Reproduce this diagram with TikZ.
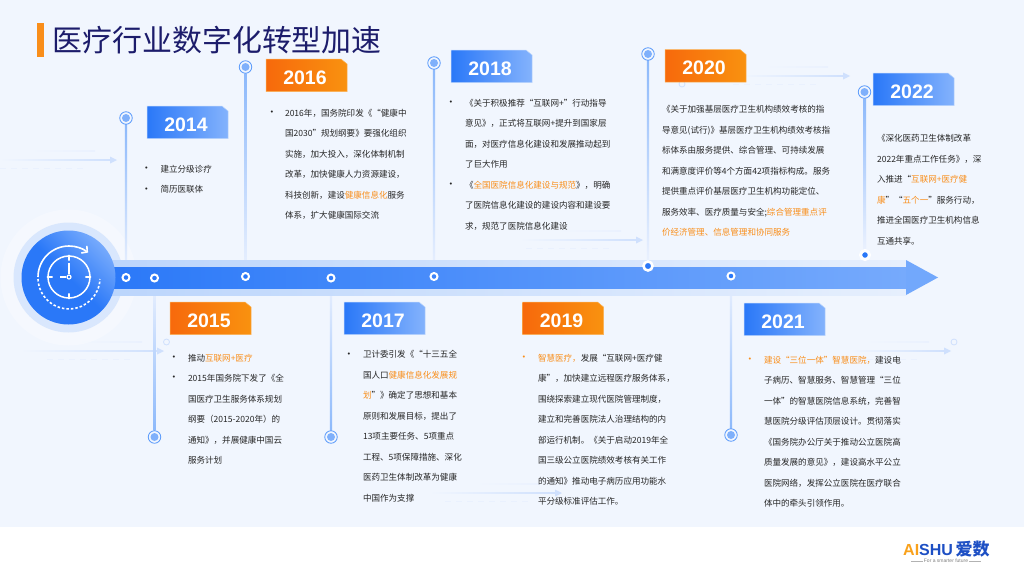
\documentclass[tikz,border=0pt]{standalone}
\usepackage{fontspec}
\setmainfont{Noto Sans CJK SC}
\newfontfamily\latinbold{Liberation Sans}[BoldFont={Liberation Sans Bold}]
\usetikzlibrary{calc,arrows.meta}
\pgfdeclarelayer{pagelayer}
\pgfdeclarelayer{stemlayer}
\pgfsetlayers{pagelayer,stemlayer,main}
\definecolor{pagebg}{HTML}{F1F6FE}
\definecolor{navy}{HTML}{1C1C6B}
\definecolor{hl}{HTML}{F98E1A}
\definecolor{ink}{HTML}{262626}
\definecolor{barl}{HTML}{2A78F8}
\definecolor{barr}{HTML}{76AAFC}
\definecolor{halol}{HTML}{BBD5FC}
\definecolor{halor}{HTML}{E6EFFD}
\definecolor{ring}{HTML}{5B9BFB}
\definecolor{dotc}{HTML}{7FB0FB}
\definecolor{stemc}{HTML}{8DB9FB}
\definecolor{stempale}{HTML}{EAF1FE}
\definecolor{decor}{HTML}{CFE0FD}
\definecolor{orgl}{HTML}{F7690C}
\definecolor{orgr}{HTML}{F9920F}
\tikzset{
  body/.style={anchor=north west,align=left,inner sep=0pt,outer sep=0pt,text=ink,yshift=11.35pt,
    font=\fontsize{8.55}{20.5}\selectfont},
  bulletmark/.style={inner sep=0pt,text=ink,font=\latinbold\fontsize{7.5}{7.5}\selectfont},
  hlbullet/.style={bulletmark,text=hl},
  yeartext/.style={inner sep=0pt,text=white,font=\latinbold\bfseries\fontsize{19.5}{20}\selectfont},
  tlnode/.style={circle,draw=ring,line width=.8pt,fill=pagebg,minimum size=12.5pt,inner sep=0pt,
    path picture={\fill[dotc] (path picture bounding box.center) circle (4pt);}},
  barmark/.style={circle,draw=white,line width=2pt,minimum size=7pt,inner sep=0pt},
  smallring/.style={circle,draw=decor,line width=.8pt,minimum size=6pt,inner sep=0pt,fill=pagebg},
}
\newcommand{\hlt}[1]{{\color{hl}#1}}
% badge: name, left x, top y, year, left colour, right colour, edge colour
\newcommand{\badge}[7]{%
  \path[left color=#5,right color=#6,draw=#7,line width=.5pt]
    (#2,#3) -- ({#2+75},#3) -- ({#2+81},{#3+5}) -- ({#2+81},{#3+32.5}) -- (#2,{#3+32.5}) -- cycle;
  \node[yeartext] (#1) at ({#2+39},{#3+18.3}) {#4};}
% stem between a timeline node and a bar marker, drawn beneath the bar
\newcommand{\stem}[2]{%
  \begin{pgfonlayer}{stemlayer}
  \draw[stempale,line width=2.2pt] (#1) -- (#2);
  \shade[top color=stemc,bottom color=stempale]
    ($(#1)+(-1.2,0)$) rectangle ($(#2)+(1.2,0)$);
  \end{pgfonlayer}}
\newcommand{\stemup}[2]{%
  \begin{pgfonlayer}{stemlayer}
  \draw[stempale,line width=2.2pt] (#1) -- (#2);
  \shade[bottom color=stemc,top color=stempale]
    ($(#1)+(-1.2,0)$) rectangle ($(#2)+(1.2,0)$);
  \end{pgfonlayer}}
% decorative arrow: name, tail x, tip x, y
\newcommand{\decoarrow}[4]{%
  \coordinate (#1a) at (#2,#4); \coordinate (#1b) at (#3,#4);
  \shade[left color=pagebg,right color=decor] ($(#1a)+(0,-.8)$) rectangle ($(#1b)+(-6,.8)$);
  \fill[decor] ($(#1b)+(-7,-3.5)$) -- (#1b) -- ($(#1b)+(-7,3.5)$) -- cycle;
  \shade[left color=pagebg,right color=stempale] ({#3-87},{#4-10}) rectangle ({#3-22},{#4-9});
  \draw[stempale,line width=.9pt,dash pattern=on 6pt off 5pt] ({#3-117},{#4+8.5}) -- ({#3-33},{#4+8.5});}
\begin{document}
\begin{tikzpicture}[x=1pt,y=-1pt]
\useasboundingbox (0,0) rectangle (1024,576);
\begin{pgfonlayer}{pagelayer}
\fill[white] (0,0) rectangle (1024,576);
\fill[pagebg] (0,0) rectangle (1024,527);
% decorative arrows
\decoarrow{dA}{0}{117}{160}
\decoarrow{dB}{520}{643}{240}
\decoarrow{dC}{740}{850}{76}
\decoarrow{dD}{20}{164}{351}
\decoarrow{dE}{430}{562}{493}
\decoarrow{dF}{850}{951}{351}
\node[smallring] (ringA) at (166.5,342) {};
\node[smallring] (ringB) at (682,84) {};
\node[smallring] (ringC) at (954,342) {};
% soft discs behind the big circle
\fill[white,opacity=.3] (68.5,277.5) circle (68pt);
\fill[halol!45!pagebg] (68.5,277.5) circle (55pt);
\end{pgfonlayer}

% title
\fill[hl] (37,23) rectangle (44,57);
\node[anchor=west,inner sep=0pt,text=navy,font=\fontsize{29.9}{32}\selectfont] (title) at (52.5,40) {医疗行业数字化转型加速};

% halo and bar
\shade[left color=halol,right color=halor] (100,260) rectangle (906,295);
\shade[left color=barl,right color=barr] (100,267) rectangle (906,288);
\fill[barr!95!barl] (906,260) -- (938,277.5) -- (906,295) -- cycle;

% big circle
\shade[left color=barr,right color=barl,middle color=barl,shading angle=-45] (68.5,277.5) circle (47pt);

% timeline nodes
\node[tlnode] (n14) at (126,118) {};
\node[tlnode] (n16) at (245.5,67) {};
\node[tlnode] (n18) at (434,63) {};
\node[tlnode] (n20) at (648,54) {};
\node[tlnode] (n22) at (864.5,92) {};
\node[tlnode] (n15) at (154.5,437) {};
\node[tlnode] (n17) at (331,437) {};
\node[tlnode] (n21) at (731,435) {};

% bar markers
\node[barmark,fill=barl] (m14) at (126,277.5) {};
\node[barmark,fill=barl] (m15) at (154.5,278) {};
\node[barmark,fill=barl] (m16) at (245.5,276.5) {};
\node[barmark,fill=barl!90!barr] (m17) at (331,278) {};
\node[barmark,fill=barl!75!barr] (m18) at (434,276.5) {};
\node[circle,fill=barl,draw=white,line width=2.6pt,minimum size=9pt,inner sep=0pt] (m20) at (648,266) {};
\node[barmark,fill=barl] (m21) at (731,276) {};
\node[circle,fill=barl,draw=white,line width=3pt,minimum size=9pt,inner sep=0pt] (m22) at (865,255) {};

% stems
\stem{n14.south}{m14.north}
\stem{n16.south}{m16.north}
\stem{n18.south}{m18.north}
\stem{n20.south}{m20.north}
\stem{n22.south}{m22.north}
\stemup{m15.south}{n15.north}
\stemup{m17.south}{n17.north}
\stemup{m21.south}{n21.north}

% clock icon
\node[circle,draw=white,line width=1.5pt,minimum size=42pt,inner sep=0pt] (clock) at (69,277) {};
\draw[white,line width=1.3pt,line cap=round] (clock.north) -- ++(0,5);
\draw[white,line width=1.3pt,line cap=round] (clock.south) -- ++(0,-5);
\draw[white,line width=1.3pt,line cap=round] (clock.west) -- ++(5,0);
\draw[white,line width=1.3pt,line cap=round] (clock.east) -- ++(-5,0);
\node[circle,draw=white,line width=1.2pt,minimum size=4pt,inner sep=0pt] (hub) at (clock.center) {};
\draw[white,line width=1.3pt] (hub.north) -- (69,263);
\draw[white,line width=1.3pt] (hub.west) -- (60,277);
\draw[white,line width=1.6pt,-{Straight Barb[length=4pt,width=9pt]}] (38,277) arc[start angle=180,end angle=52,radius=31pt];
\draw[white,line width=1.6pt,dash pattern=on 2.5pt off 2pt] (38,279) arc[start angle=182,end angle=358,radius=31pt];

% badges
\badge{y14}{147}{106}{2014}{barl}{barr!90!white}{halol}
\badge{y16}{266}{59}{2016}{orgl}{orgr}{orgr!70!white}
\badge{y18}{451}{50}{2018}{barl}{barr!90!white}{halol}
\badge{y20}{665}{49.5}{2020}{orgl}{orgr}{orgr!70!white}
\badge{y22}{873}{73}{2022}{barl}{barr!90!white}{halol}
\badge{y15}{170}{302}{2015}{orgl}{orgr}{orgr!70!white}
\badge{y17}{344}{302}{2017}{barl}{barr!90!white}{halol}
\badge{y19}{522.5}{302}{2019}{orgl}{orgr}{orgr!70!white}
\badge{y21}{744}{303}{2021}{barl}{barr!90!white}{halol}

% bullets and text
\node[bulletmark] (b14a) at (146.5,169) {•};
\node[bulletmark] (b14b) at (146.5,189.5) {•};
\node[body] (t14) at (160.5,169) {\strut 建立分级诊疗\\\strut 简历医联体};

\node[bulletmark] (b16) at (272,113) {•};
\node[body] (t16) at (285,113) {\strut 2016年，国务院印发《“健康中\\\strut 国2030”规划纲要》要强化组织\\\strut 实施，加大投入，深化体制机制\\\strut 改革，加快健康人力资源建设，\\\strut 科技创新，建设\hlt{健康信息化}服务\\\strut 体系，扩大健康国际交流};

\node[bulletmark] (b18a) at (451,103) {•};
\node[bulletmark] (b18b) at (451,185) {•};
\node[body] (t18) at (465,103) {\strut 《关于积极推荐“互联网+”行动指导\\\strut 意见》，正式将互联网+提升到国家层\\\strut 面，对医疗信息化建设和发展推动起到\\\strut 了巨大作用\\\strut 《\hlt{全国医院信息化建设与规范}》，明确\\\strut 了医院信息化建设的建设内容和建设要\\\strut 求，规范了医院信息化建设};

\node[body] (t20) at (662,109.5) {\strut 《关于加强基层医疗卫生机构绩效考核的指\\\strut 导意见(试行)》基层医疗卫生机构绩效考核指\\\strut 标体系由服务提供、综合管理、可持续发展\\\strut 和满意度评价等4个方面42项指标构成。服务\\\strut 提供重点评价基层医疗卫生机构功能定位、\\\strut 服务效率、医疗质量与安全;\hlt{综合管理重点评}\\\strut \hlt{价经济管理、信息管理和协同服务}};

\node[body] (t22) at (877,138.7) {\strut 《深化医药卫生体制改革\\\strut 2022年重点工作任务》，深\\\strut 入推进“\hlt{互联网+医疗健}\\\strut \hlt{康}”“\hlt{五个一}”服务行动，\\\strut 推进全国医疗卫生机构信息\\\strut 互通共享。};

\node[bulletmark] (b15a) at (174,358) {•};
\node[bulletmark] (b15b) at (174,378) {•};
\node[body] (t15) at (188,358) {\strut 推动\hlt{互联网+医疗}\\\strut 2015年国务院下发了《全\\\strut 国医疗卫生服务体系规划\\\strut 纲要（2015-2020年）的\\\strut 通知》，并展健康中国云\\\strut 服务计划};

\node[bulletmark] (b17) at (349,354.7) {•};
\node[body] (t17) at (363,354.7) {\strut 卫计委引发《“十三五全\\\strut 国人口\hlt{健康信息化发展规}\\\strut \hlt{划}”》确定了思想和基本\\\strut 原则和发展目标，提出了\\\strut 13项主要任务、5项重点\\\strut 工程、5项保障措施、深化\\\strut 医药卫生体制改革为健康\\\strut 中国作为支撑};

\node[hlbullet] (b19) at (524,358) {•};
\node[body] (t19) at (538,358) {\strut \hlt{智慧医疗，}发展“互联网+医疗健\\\strut 康”，加快建立远程医疗服务体系，\\\strut 围绕探索建立现代医院管理制度，\\\strut 建立和完善医院法人治理结构的内\\\strut 部运行机制。《关于启动2019年全\\\strut 国三级公立医院绩效考核有关工作\\\strut 的通知》推动电子病历应用功能水\\\strut 平分级标准评估工作。};

\node[hlbullet] (b21) at (750,360) {•};
\node[body] (t21) at (764,360) {\strut \hlt{建设“三位一体”智慧医院，}建设电\\\strut 子病历、智慧服务、智慧管理“三位\\\strut 一体”的智慧医院信息系统，完善智\\\strut 慧医院分级评估顶层设计。贯彻落实\\\strut 《国务院办公厅关于推动公立医院高\\\strut 质量发展的意见》，建设高水平公立\\\strut 医院网络，发挥公立医院在医疗联合\\\strut 体中的牵头引领作用。};

% logo
\node[anchor=west,inner sep=0pt,font=\latinbold\bfseries\fontsize{16}{16}\selectfont] (logoA) at (903,549.5) {\textcolor[HTML]{F9A11B}{AI}\textcolor[HTML]{1D4FC4}{SHU}};
\node[anchor=west,inner sep=0pt,text={rgb,255:red,29;green,79;blue,196},font=\bfseries\fontsize{17}{17}\selectfont] (logoB) at (955.5,549) {爱数};
\node[inner sep=0pt,text=gray,font=\latinbold\fontsize{5}{5}\selectfont] (tag) at (946,561) {For a smarter future};
\draw[gray!60,line width=.4pt] (tag.west) ++(-1,0) -- (911,561);
\draw[gray!60,line width=.4pt] (tag.east) ++(1,0) -- (981,561);
\end{tikzpicture}
\end{document}
